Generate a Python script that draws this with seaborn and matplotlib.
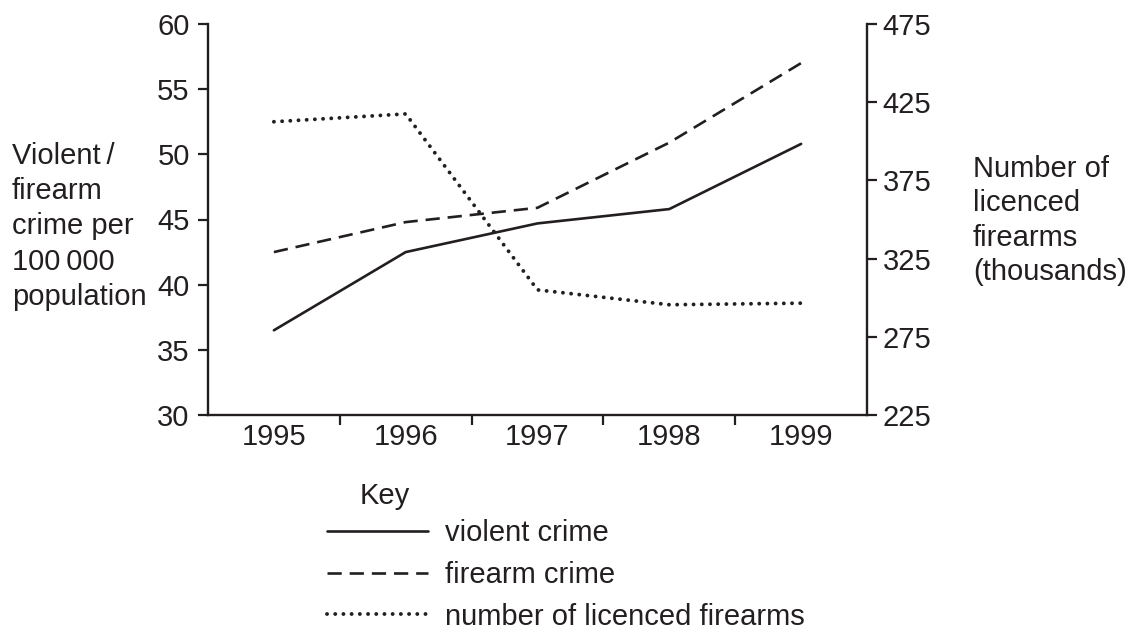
import matplotlib
matplotlib.use("Agg")
import matplotlib.pyplot as plt
import seaborn as sns
import pandas as pd

# ---- data ----
years = [1995, 1996, 1997, 1998, 1999]
violent_crime = [36.5, 42.5, 44.7, 45.8, 50.8]
firearm_crime = [42.5, 44.8, 45.9, 50.9, 57.0]
licenced_firearms = [412.5, 417.5, 305.0, 295.5, 296.5]
left_ticks = [30, 35, 40, 45, 50, 55, 60]
right_ticks = [225, 275, 325, 375, 425, 475]
series_labels = ["violent crime", "firearm crime", "number of licenced firearms"]

INK = "#231f20"
FONT = "Liberation Sans"
FS = 21

sns.set_theme(style="white")
plt.rcParams["font.family"] = [FONT, "DejaVu Sans"]
plt.rcParams["text.color"] = INK
plt.rcParams["axes.edgecolor"] = INK
plt.rcParams["xtick.color"] = INK
plt.rcParams["ytick.color"] = INK

df = pd.DataFrame({"year": years, "violent": violent_crime,
                   "firearm": firearm_crime, "licenced": licenced_firearms})

fig = plt.figure(figsize=(11.36, 6.32), dpi=100)
ax = fig.add_axes([208 / 1136, 1 - 415 / 632, (867 - 208) / 1136, (415 - 24) / 632])
ax2 = ax.twinx()

sns.lineplot(data=df, x="year", y="violent", ax=ax, color=INK, lw=1.9,
             label=series_labels[0], legend=False)
sns.lineplot(data=df, x="year", y="firearm", ax=ax, color=INK, lw=1.9,
             linestyle=(0, (5.4, 3.0)), label=series_labels[1], legend=False)
sns.lineplot(data=df, x="year", y="licenced", ax=ax2, color=INK, lw=2.8,
             linestyle=(0, (0.01, 2.1)), label=series_labels[2], legend=False)
l_dot = ax2.get_lines()[0]
l_dot.set_dash_capstyle("round")

ax.set_xlim(1994.5, 1999.5)
ax.set_ylim(30, 60)
ax2.set_ylim(225, 475)
ax.set_yticks(left_ticks)
ax.set_yticklabels([str(t) for t in left_ticks])
ax2.set_yticks(right_ticks)
ax2.set_yticklabels([str(t) for t in right_ticks])
ax.set_xticks(years)
ax.set_xticklabels([str(y) for y in years])
ax.set_xticks([y + 0.5 for y in years[:-1]], minor=True)

ax.set_xlabel("")
ax.set_ylabel("")
ax2.set_ylabel("")

for a in (ax, ax2):
    for s in a.spines.values():
        s.set_linewidth(1.7)
        s.set_color(INK)
ax.spines["top"].set_visible(False)
ax.spines["right"].set_visible(False)
ax2.spines["top"].set_visible(False)
ax2.spines["left"].set_visible(False)
ax2.spines["bottom"].set_visible(False)

ax.tick_params(axis="x", which="major", length=0, pad=6, labelsize=FS)
ax.tick_params(axis="x", which="minor", direction="out", length=7.2, width=1.6,
               bottom=True)
ax.tick_params(axis="y", direction="out", length=7.2, width=1.6, pad=6.0,
               labelsize=FS, left=True)
ax2.tick_params(axis="y", direction="out", length=7.2, width=1.6, pad=4.0,
                labelsize=FS, right=True)

# axis titles
fig.text(12 / 1136, 1 - 305 / 632,
         "Violent\u2009/\nfirearm\ncrime per\n100\u2009000\npopulation",
         ha="left", va="baseline", fontsize=FS, linespacing=1.33, color=INK)
fig.text(973 / 1136, 1 - 280 / 632,
         "Number of\nlicenced\nfirearms\n(thousands)",
         ha="left", va="baseline", fontsize=FS, linespacing=1.295, color=INK)

# key
fig.text(360 / 1136, 1 - 504 / 632, "Key", ha="left", va="baseline",
         fontsize=FS, color=INK)
handles = [ax.get_lines()[0], ax.get_lines()[1], l_dot]
fig.legend(handles, series_labels, loc="center left",
           bbox_to_anchor=(327 / 1136, 1 - 575 / 632), frameon=False,
           borderpad=0, borderaxespad=0, handlelength=101 / 1.389 / FS,
           handletextpad=17 / 1.389 / FS,
           labelspacing=0.47, fontsize=FS, labelcolor=INK)

fig.savefig("out.png", dpi=100)
